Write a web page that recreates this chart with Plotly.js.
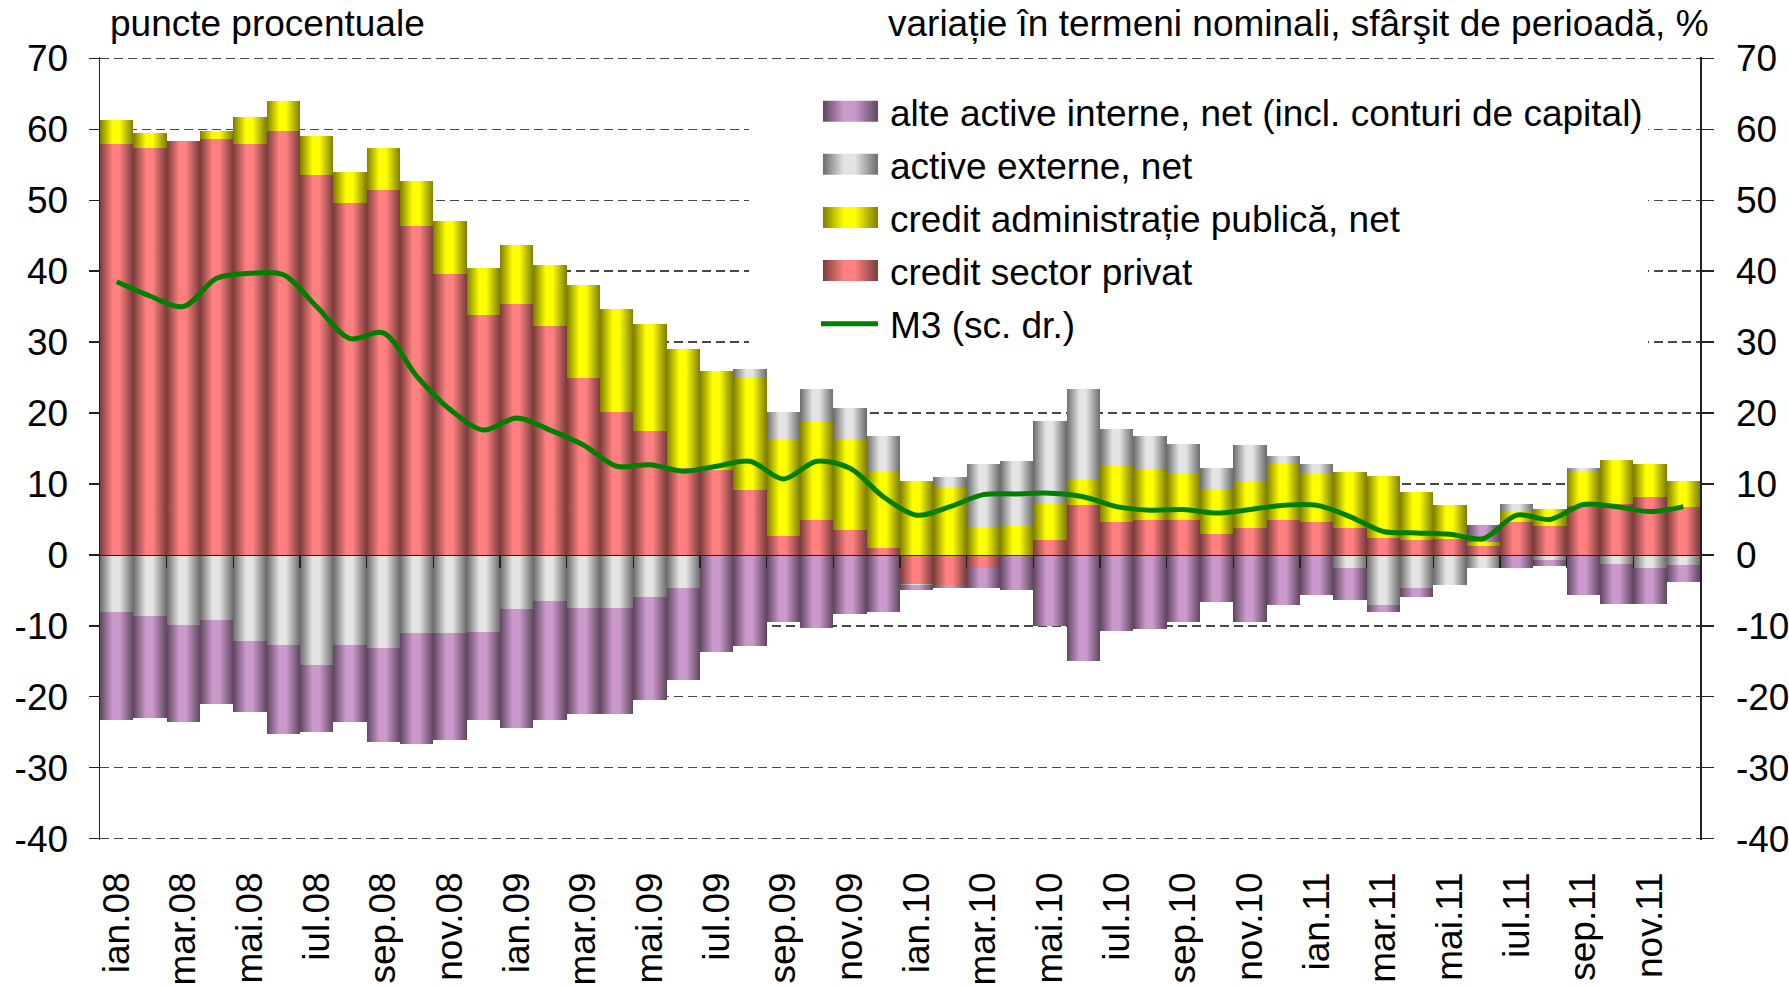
<!DOCTYPE html>
<html>
<head>
<meta charset="utf-8">
<script src="https://cdn.plot.ly/plotly-3.0.1.min.js"></script>
<style>
  html, body { margin: 0; padding: 0; background: #ffffff; }
  #chart { width: 1789px; height: 987px; }
</style>
</head>
<body>
<div id="chart"></div>
<script>
// ---------- data ----------
const months = [
  'ian.08','feb.08','mar.08','apr.08','mai.08','iun.08','iul.08','aug.08','sep.08','oct.08','nov.08','dec.08',
  'ian.09','feb.09','mar.09','apr.09','mai.09','iun.09','iul.09','aug.09','sep.09','oct.09','nov.09','dec.09',
  'ian.10','feb.10','mar.10','apr.10','mai.10','iun.10','iul.10','aug.10','sep.10','oct.10','nov.10','dec.10',
  'ian.11','feb.11','mar.11','apr.11','mai.11','iun.11','iul.11','aug.11','sep.11','oct.11','nov.11','dec.11'
];
const tickLabels = ['ian.08','mar.08','mai.08','iul.08','sep.08','nov.08',
  'ian.09','mar.09','mai.09','iul.09','sep.09','nov.09',
  'ian.10','mar.10','mai.10','iul.10','sep.10','nov.10',
  'ian.11','mar.11','mai.11','iul.11','sep.11','nov.11'];
const yTicks = [-40, -30, -20, -10, 0, 10, 20, 30, 40, 50, 60, 70];
const yTickText = ['-40', '-30', '-20', '-10', '0', '10', '20', '30', '40', '50', '60', '70'];

const creditSectorPrivat = [
  58.0, 57.4, 58.4, 58.6, 58.0, 59.7, 53.5, 49.6, 51.5, 46.4, 39.6, 33.8,
  35.4, 32.3, 25.0, 20.2, 17.4, 12.3, 12.0, 9.2, 2.7, 4.9, 3.5, 1.0,
  -4.1, -4.2, -1.8, 0.0, 2.1, 7.0, 4.7, 4.9, 4.9, 3.0, 3.8, 4.9,
  4.7, 3.8, 2.4, 2.1, 2.3, 1.3, 4.7, 4.1, 6.9, 7.2, 8.1, 6.7
];
const creditAdministratie = [
  3.3, 2.1, 0.0, 1.1, 3.8, 4.3, 5.6, 4.4, 5.9, 6.3, 7.5, 6.7,
  8.3, 8.6, 13.1, 14.5, 15.2, 16.8, 13.9, 15.8, 13.6, 13.9, 12.8, 10.7,
  10.4, 9.5, 3.9, 4.1, 5.1, 3.6, 7.9, 7.1, 6.5, 6.2, 6.5, 7.9,
  6.7, 7.9, 8.7, 6.8, 4.8, 0.5, 1.4, 2.4, 4.9, 6.2, 4.7, 3.7
];
const activeExterne = [
  -8.0, -8.6, -9.9, -9.2, -12.1, -12.7, -15.5, -12.7, -13.1, -11.0, -11.0, -10.9,
  -7.6, -6.5, -7.5, -7.5, -5.9, -4.7, 0.0, 1.2, 3.8, 4.6, 4.4, 5.1,
  -0.2, 1.5, 8.9, 9.2, 11.7, 12.8, 5.2, 4.8, 4.3, 3.1, 5.2, 1.2,
  1.4, -1.8, -7.1, -4.7, -4.3, -1.8, 1.1, -0.7, 0.4, -1.3, -1.8, -1.4
];
const alteActive = [
  -15.3, -14.4, -13.7, -11.8, -10.0, -12.5, -9.5, -10.9, -13.3, -15.7, -15.1, -12.4,
  -16.8, -16.8, -14.9, -14.9, -14.5, -12.9, -13.7, -12.8, -9.4, -10.3, -8.3, -8.0,
  -0.6, -0.4, -2.8, -4.9, -10.0, -15.0, -10.8, -10.5, -9.4, -6.6, -9.4, -7.1,
  -5.7, -4.5, -0.9, -1.3, 0.0, 2.4, -1.8, -0.8, -5.7, -5.6, -5.1, -2.4
];
const m3 = [
  38.5, 36.5, 35.0, 39.0, 39.7, 39.5, 35.0, 30.5, 31.3, 25.2, 20.5, 17.6,
  19.3, 17.6, 15.5, 12.5, 12.7, 11.8, 12.5, 13.2, 10.7, 13.2, 12.2, 8.2,
  5.6, 6.8, 8.5, 8.6, 8.7, 8.2, 6.8, 6.3, 6.4, 5.9, 6.4, 7.0,
  7.0, 5.4, 3.3, 3.1, 2.9, 2.3, 5.6, 5.0, 7.1, 6.8, 6.1, 6.8
];
const seriesNames = [
  'credit sector privat',
  'credit administrație publică, net',
  'active externe, net',
  'alte active interne, net (incl. conturi de capital)',
  'M3 (sc. dr.)'
];

// ---------- styling ----------
const FONT = 'Liberation Sans, Arial, sans-serif';
const FS = 37;
const Y_RANGE = [-40.2, 70.2];
const barColors = [
  {light: '#FF8080', dark: '#7A3C3C'},
  {light: '#FFFF00', dark: '#7E7E00'},
  {light: '#E4E4E4', dark: '#6C6C6C'},
  {light: '#CC99CC', dark: '#5E475E'}
];
const barSeries = [creditSectorPrivat, creditAdministratie, activeExterne, alteActive];
const legendRanks = [4, 3, 2, 1];

const traces = barSeries.map((vals, i) => ({
  type: 'bar',
  x: months,
  y: vals,
  name: seriesNames[i],
  marker: {color: barColors[i].light, line: {width: 0}},
  legendgroup: 'g' + i,
  legendrank: legendRanks[i],
  xaxis: 'x',
  yaxis: 'y'
}));
const monthIndex = months.map((m, i) => i);
traces.push({
  type: 'scatter',
  mode: 'lines',
  x: monthIndex,
  y: m3,
  name: seriesNames[4],
  line: {color: '#008000', width: 5, shape: 'spline', smoothing: 0.9},
  legendgroup: 'g4',
  legendrank: 5,
  xaxis: 'x2',
  yaxis: 'y2'
});

const boundaryTicks = [];
for (let i = 1; i < months.length - 1; i += 2) boundaryTicks.push(i + 0.5);

const axisCommon = {
  range: Y_RANGE,
  tickmode: 'array',
  tickvals: yTicks,
  ticktext: yTickText,
  showline: true,
  linecolor: '#222',
  linewidth: 1.5,
  ticks: 'outside',
  ticklen: 10,
  tickwidth: 1.5,
  tickcolor: '#222',
  zeroline: false,
  tickfont: {family: FONT, size: FS, color: '#000'}
};

const layout = {
  width: 1789,
  height: 987,
  margin: {l: 100, r: 89, t: 57, b: 147},
  paper_bgcolor: '#ffffff',
  plot_bgcolor: '#ffffff',
  barmode: 'relative',
  bargap: 0,
  font: {family: FONT, size: FS, color: '#000'},
  showlegend: true,
  legend: {
    x: 0.4056, y: 0.9697, xanchor: 'left', yanchor: 'top',
    bgcolor: '#ffffff', borderwidth: 0,
    font: {family: FONT, size: FS, color: '#000'},
    traceorder: 'grouped', tracegroupgap: 2, itemwidth: 131
  },
  xaxis: {
    type: 'category',
    range: [-0.5, 47.5],
    tickmode: 'array',
    tickvals: tickLabels,
    ticktext: tickLabels,
    tickangle: -90,
    ticks: '',
    showline: false,
    showgrid: false,
    zeroline: false,
    ticklabelstandoff: 24,
    tickfont: {family: FONT, size: FS, color: '#000'}
  },
  xaxis2: {
    overlaying: 'x',
    anchor: 'free',
    position: (0 - Y_RANGE[0]) / (Y_RANGE[1] - Y_RANGE[0]),
    range: [-0.5, 47.5],
    tickmode: 'array',
    tickvals: boundaryTicks,
    showticklabels: false,
    ticks: 'outside',
    ticklen: 12,
    tickwidth: 1.5,
    tickcolor: '#222',
    showline: true,
    linecolor: '#222',
    linewidth: 1.5,
    showgrid: false,
    zeroline: false,
    layer: 'above traces'
  },
  yaxis: Object.assign({}, axisCommon, {
    side: 'left',
    showgrid: true,
    gridcolor: '#484848',
    gridwidth: 1.5,
    griddash: '9px,5px',
    ticklabelstandoff: 13
  }),
  yaxis2: Object.assign({}, axisCommon, {
    overlaying: 'y',
    side: 'right',
    anchor: 'x',
    showgrid: false,
    ticklen: 12,
    ticklabelstandoff: 15
  }),
  annotations: [
    {text: 'puncte procentuale', xref: 'paper', yref: 'paper', x: 0.0048, y: 1.0427,
     xanchor: 'left', yanchor: 'middle', showarrow: false, font: {family: FONT, size: FS, color: '#000'}},
    {text: 'variație în termeni nominali, sfârşit de perioadă, %', xref: 'paper', yref: 'paper', x: 1.0071, y: 1.0427,
     xanchor: 'right', yanchor: 'middle', showarrow: false, font: {family: FONT, size: FS, color: '#000'}}
  ]
};

const gd = document.getElementById('chart');
Plotly.newPlot(gd, traces, layout, {staticPlot: true, displayModeBar: false, responsive: false}).then(() => {
  const NS = 'http://www.w3.org/2000/svg';
  const svg = gd.querySelector('svg.main-svg');
  let defs = svg.querySelector('defs');
  if (!defs) { defs = document.createElementNS(NS, 'defs'); svg.insertBefore(defs, svg.firstChild); }
  barColors.forEach((c, i) => {
    const g = document.createElementNS(NS, 'linearGradient');
    g.setAttribute('id', 'barGrad' + i);
    g.setAttribute('x1', '0'); g.setAttribute('x2', '1');
    g.setAttribute('y1', '0'); g.setAttribute('y2', '0');
    [[0, c.dark], [0.38, c.light], [0.58, c.light], [1, c.dark]].forEach(([o, col]) => {
      const s = document.createElementNS(NS, 'stop');
      s.setAttribute('offset', o);
      s.setAttribute('stop-color', col);
      g.appendChild(s);
    });
    defs.appendChild(g);
  });
  gd.querySelectorAll('.barlayer .trace').forEach(tr => {
    const idx = tr.__data__[0].trace.index;
    tr.querySelectorAll('path').forEach(p => { p.style.fill = 'url(#barGrad' + idx + ')'; });
  });
  gd.querySelectorAll('.legend .traces').forEach(item => {
    const tr = item.__data__[0].trace;
    const text = item.querySelector('text.legendtext');
    const tx = parseFloat(text.getAttribute('x')) || 40;
    if (tr.type === 'bar') {
      item.querySelectorAll('.legendpoints path').forEach(p => {
        p.removeAttribute('transform');
        p.setAttribute('d', 'M' + (tx - 67) + ',-10.5H' + (tx - 12) + 'V10.5H' + (tx - 67) + 'Z');
        p.style.fill = 'url(#barGrad' + tr.index + ')';
        p.style.stroke = 'none';
      });
    } else {
      item.querySelectorAll('.legendlines path').forEach(p => {
        p.removeAttribute('transform');
        p.setAttribute('d', 'M' + (tx - 69) + ',0H' + (tx - 12));
      });
    }
  });
});
</script>
</body>
</html>
